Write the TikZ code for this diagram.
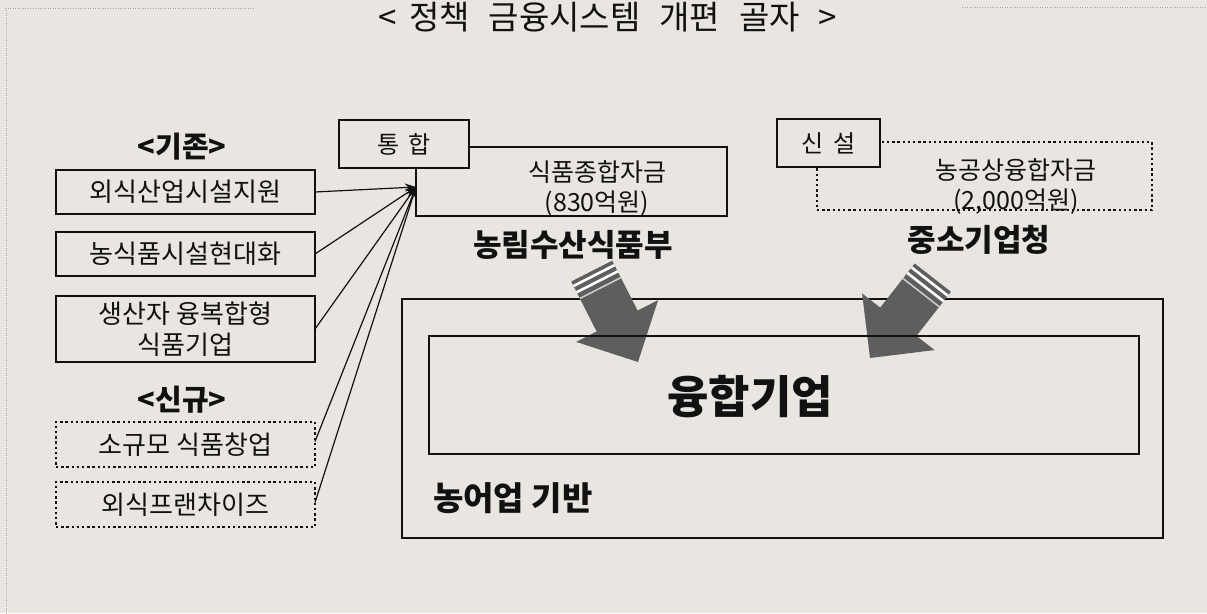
\documentclass[tikz,border=0pt]{standalone}
\usepackage{fontspec}
\setmainfont{Noto Sans CJK KR}
\usetikzlibrary{arrows.meta}
\definecolor{bg}{HTML}{E9E6E1}
\definecolor{ink}{HTML}{111111}
\definecolor{arrowgray}{HTML}{5E5E5E}
\definecolor{framegray}{HTML}{A9A7A3}
\newcommand{\fatarrow}[3]{%
  \begin{scope}[shift={(#1,#2)}, rotate=#3]
    \fill[arrowgray] (-102,-23) -- (-46,-23) -- (-46,-46) -- (0,0) -- (-46,46) -- (-46,23) -- (-102,23) -- cycle;
    \draw[white, line width=2.6pt] (-97,-23) -- (-97,23);
    \draw[white, line width=2.6pt] (-90,-23) -- (-90,23);
    \draw[white!70!arrowgray, line width=1.5pt] (-83,-23) -- (-83,23);
  \end{scope}}
\begin{document}
\begin{tikzpicture}[x=1pt,y=-1pt,
  every node/.style={inner sep=0pt, outer sep=0pt, text=ink},
  frame/.style={draw=framegray, line width=1pt, dash pattern=on 1pt off 1.5pt},
  box/.style={draw=ink, line width=2pt, fill=bg, minimum width=259pt, align=center, font=\fontsize{26}{31}\selectfont},
  dotbox/.style={box, line width=2.4pt, dash pattern=on 2.4pt off 2.8pt},
  tagbox/.style={draw=ink, line width=2pt, fill=bg, font=\fontsize{24}{28}\selectfont},
  fundbox/.style={draw=ink, line width=2pt},
  fundtext/.style={align=center, font=\fontsize{25}{30}\selectfont},
  hdr/.style={font=\bfseries\fontsize{29}{34}\selectfont},
  agency/.style={font=\bfseries\fontsize{31}{36}\selectfont},
  conn/.style={draw=ink, line width=1.2pt, -{Stealth[length=11pt,width=8pt]}}
]
\useasboundingbox (0,0) rectangle (1207,613);
\fill[bg] (0,0) rectangle (1207,613);

% faint frame
\draw[frame] (5,8) -- (255,8);
\draw[frame] (962,7) -- (1207,7);
\draw[frame] (6,10) -- (6,613);

% title
\node[anchor=base, font=\fontsize{33}{40}\selectfont] (title) at (608,29)
  {<\hspace{12pt}정책\hspace{19pt}금융시스템\hspace{19pt}개편\hspace{19pt}골자\hspace{19pt}>};

% left column
\node[hdr] (kijon) at (182,147) {<기존>};
\node[box, minimum height=44pt] (b1) at (185.5,192) {외식산업시설지원};
\node[box, minimum height=44pt] (b2) at (185.5,254) {농식품시설현대화};
\node[box, minimum height=66pt] (b3) at (185.5,329) {생산자 융복합형\\식품기업};
\node[hdr] (singyu) at (182,400) {<신규>};
\node[dotbox, minimum height=45pt] (n1) at (185.5,444.5) {소규모 식품창업};
\node[dotbox, minimum height=45pt] (n2) at (185.5,504.5) {외식프랜차이즈};

% funds
\node[fundbox, minimum width=311pt, minimum height=69pt] (fund1) at (571.5,181.5) {};
\node[fundtext] (fund1t) at (597,189) {식품종합자금\\(830억원)};
\node[tagbox, minimum width=130pt, minimum height=48pt] (tonghap) at (404,144) {통\hspace{9pt}합};
\node[fundbox, line width=2.4pt, dash pattern=on 2.4pt off 2.8pt, minimum width=335pt, minimum height=68pt] (fund2) at (984.5,176) {};
\node[fundtext] (fund2t) at (1016,187) {농공상융합자금\\(2,000억원)};
\node[tagbox, minimum width=103pt, minimum height=48pt] (sinseol) at (828.5,143) {신\hspace{9pt}설};

\node[agency] (mafra) at (573,245) {농림수산식품부};
\node[agency] (smba) at (979,240) {중소기업청};

% connectors
\coordinate (conv) at (416,187);
\draw[conn] (b1.east) -- (conv);
\draw[conn] (b2.east) -- (conv);
\draw[conn] (b3.east) -- (conv);
\draw[conn] ([yshift=3pt]n1.east) -- (conv);
\draw[conn] ([yshift=2pt]n2.east) -- (conv);

% base boxes
\node[draw=ink, line width=2.4pt, minimum width=761pt, minimum height=239pt] (outer) at (782.5,418.5) {};
\fatarrow{638}{362}{-63}
\fatarrow{870}{358}{-128}
\node[draw=ink, line width=1.5pt, minimum width=710pt, minimum height=118pt] (inner) at (784,395) {};
\node[font=\bfseries\fontsize{45}{50}\selectfont] (yunghap) at (750,397) {융합기업};
\node[anchor=west, font=\bfseries\fontsize{33}{38}\selectfont] (nongeo) at (433,498) {농어업 기반};
\end{tikzpicture}
\end{document}
